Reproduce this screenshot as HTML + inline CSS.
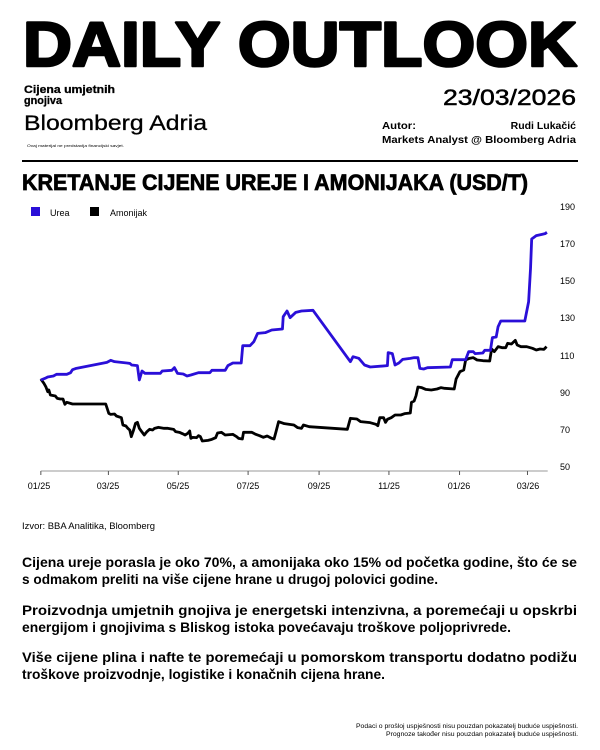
<!DOCTYPE html>
<html><head><meta charset="utf-8"><style>
html,body{margin:0;padding:0;background:#fff;}
svg{display:block;}
text{font-family:"Liberation Sans",sans-serif;fill:#000;}
.b{font-weight:bold;}
</style></head><body>
<svg width="600" height="750" viewBox="0 0 600 750" xmlns="http://www.w3.org/2000/svg">
<text x="23" y="66" class="b" font-size="63" stroke="#000" stroke-width="2.6" stroke-linejoin="round" textLength="554" lengthAdjust="spacingAndGlyphs">DAILY OUTLOOK</text>
<text x="24" y="93" class="b" font-size="11" stroke="#000" stroke-width="0.3" textLength="91" lengthAdjust="spacingAndGlyphs">Cijena umjetnih</text>
<text x="24" y="104" class="b" font-size="11" stroke="#000" stroke-width="0.3" textLength="38" lengthAdjust="spacingAndGlyphs">gnojiva</text>
<text x="24" y="130" font-size="21" stroke="#000" stroke-width="0.3" textLength="183" lengthAdjust="spacingAndGlyphs">Bloomberg Adria</text>
<text x="27" y="147" font-size="4" textLength="97" lengthAdjust="spacingAndGlyphs">Ovaj materijal ne predstavlja financijski savjet.</text>
<text x="443" y="105" font-size="22" stroke="#000" stroke-width="0.5" textLength="133" lengthAdjust="spacingAndGlyphs">23/03/2026</text>
<text x="382" y="129" class="b" font-size="10.5" textLength="34" lengthAdjust="spacingAndGlyphs">Autor:</text>
<text x="576" y="129" class="b" font-size="10.5" text-anchor="end">Rudi Lukačić</text>
<text x="382" y="143" class="b" font-size="10.5" textLength="194" lengthAdjust="spacingAndGlyphs">Markets Analyst @ Bloomberg Adria</text>
<rect x="22" y="160" width="556" height="2" fill="#000"/>
<text x="22" y="190" class="b" font-size="22" stroke="#000" stroke-width="0.7" textLength="506" lengthAdjust="spacingAndGlyphs">KRETANJE CIJENE UREJE I AMONIJAKA (USD/T)</text>
<rect x="31" y="207" width="9" height="9" fill="#2a0fd8"/>
<text x="50" y="216" font-size="9">Urea</text>
<rect x="90" y="207" width="9" height="9" fill="#000"/>
<text x="110" y="216" font-size="9">Amonijak</text>
<g font-size="9" fill="#000">
<text x="560" y="210">190</text><text x="560" y="247">170</text><text x="560" y="284">150</text>
<text x="560" y="321">130</text><text x="560" y="359">110</text><text x="560" y="396">90</text>
<text x="560" y="433">70</text><text x="560" y="470">50</text>
</g>
<g font-size="9" text-anchor="middle">
<text x="39" y="489">01/25</text><text x="108" y="489">03/25</text><text x="178" y="489">05/25</text>
<text x="248" y="489">07/25</text><text x="319" y="489">09/25</text><text x="389" y="489">11/25</text>
<text x="459" y="489">01/26</text><text x="528" y="489">03/26</text>
</g>
<svg x="0" y="195" width="600" height="300" viewBox="0 0 1572 900" preserveAspectRatio="none">
<line x1="107" y1="828" x2="1435" y2="828" stroke="#999" stroke-width="1" vector-effect="non-scaling-stroke"/>
<g stroke="#555" stroke-width="1">
<line x1="107" y1="828" x2="107" y2="840" vector-effect="non-scaling-stroke"/>
<line x1="284" y1="828" x2="284" y2="840" vector-effect="non-scaling-stroke"/>
<line x1="467" y1="828" x2="467" y2="840" vector-effect="non-scaling-stroke"/>
<line x1="650" y1="828" x2="650" y2="840" vector-effect="non-scaling-stroke"/>
<line x1="836" y1="828" x2="836" y2="840" vector-effect="non-scaling-stroke"/>
<line x1="1019" y1="828" x2="1019" y2="840" vector-effect="non-scaling-stroke"/>
<line x1="1204" y1="828" x2="1204" y2="840" vector-effect="non-scaling-stroke"/>
<line x1="1382" y1="828" x2="1382" y2="840" vector-effect="non-scaling-stroke"/>
</g>
<polyline fill="none" stroke="#000" stroke-width="2.8" stroke-linejoin="round" vector-effect="non-scaling-stroke" points="107,552 115,565 120,575 125,590 128,585 132,600 145,603 150,610 158,612 165,612 170,628 175,622 190,627 277,627 285,655 290,658 300,657 305,663 318,668 322,690 330,693 335,700 340,705 344,725 350,705 355,685 360,682 365,700 370,708 378,720 385,710 392,703 400,705 405,700 415,697 430,700 440,700 455,703 460,710 470,712 478,716 485,720 492,715 497,708 500,730 505,727 515,728 520,722 525,725 530,738 545,736 555,733 565,728 570,714 580,712 590,720 610,718 620,725 625,730 635,732 638,712 660,712 670,718 680,722 690,727 700,723 712,730 718,732 722,715 730,680 745,686 770,690 780,698 790,700 795,690 810,695 910,703 918,670 935,672 945,680 970,683 985,688 990,692 995,668 1005,668 1010,682 1015,673 1025,668 1035,660 1050,660 1060,656 1075,654 1078,622 1085,618 1090,602 1095,576 1105,578 1115,583 1130,585 1145,582 1155,578 1165,580 1190,582 1195,552 1205,530 1215,525 1220,495 1230,490 1240,488 1250,495 1265,497 1283,498 1288,462 1295,470 1305,455 1315,458 1325,458 1330,445 1340,447 1350,436 1355,450 1365,455 1380,455 1395,460 1405,465 1415,462 1425,463 1432,455"/>
<polyline fill="none" stroke="#2a0fd8" stroke-width="2.8" stroke-linejoin="round" vector-effect="non-scaling-stroke" points="107,555 118,550 125,546 140,543 148,538 175,538 185,533 190,524 200,520 280,502 290,496 300,500 340,505 345,510 360,512 365,555 372,528 380,535 420,535 425,528 450,526 457,518 465,535 480,537 490,543 500,540 520,533 550,533 555,526 590,526 597,512 610,504 632,504 636,452 655,452 665,440 675,415 695,413 712,405 740,402 742,365 752,348 760,368 775,352 790,348 820,346 918,500 925,485 940,490 955,510 970,516 1015,512 1017,473 1028,476 1035,510 1045,504 1055,493 1075,490 1085,488 1095,488 1100,520 1110,522 1120,518 1180,516 1185,494 1220,494 1228,470 1240,470 1245,476 1265,474 1270,466 1285,466 1290,428 1300,426 1305,395 1312,378 1375,378 1385,320 1390,220 1393,132 1405,122 1420,118 1428,116 1433,112"/>
</svg>
<text x="22" y="529" font-size="9" textLength="133" lengthAdjust="spacingAndGlyphs">Izvor: BBA Analitika, Bloomberg</text>
<g class="b" font-size="13.5" font-weight="bold">
<text x="22" y="567" textLength="555" lengthAdjust="spacingAndGlyphs">Cijena ureje porasla je oko 70%, a amonijaka oko 15% od početka godine, što će se</text>
<text x="22" y="584" textLength="416" lengthAdjust="spacingAndGlyphs">s odmakom preliti na više cijene hrane u drugoj polovici godine.</text>
<text x="22" y="615" textLength="555" lengthAdjust="spacingAndGlyphs">Proizvodnja umjetnih gnojiva je energetski intenzivna, a poremećaji u opskrbi</text>
<text x="22" y="632" textLength="489" lengthAdjust="spacingAndGlyphs">energijom i gnojivima s Bliskog istoka povećavaju troškove poljoprivrede.</text>
<text x="22" y="662" textLength="555" lengthAdjust="spacingAndGlyphs">Više cijene plina i nafte te poremećaji u pomorskom transportu dodatno podižu</text>
<text x="22" y="679" textLength="363" lengthAdjust="spacingAndGlyphs">troškove proizvodnje, logistike i konačnih cijena hrane.</text>
</g>
<text x="356" y="728" font-size="6" textLength="222" lengthAdjust="spacingAndGlyphs">Podaci o prošloj uspješnosti nisu pouzdan pokazatelj buduće uspješnosti.</text>
<text x="386" y="736" font-size="6" textLength="192" lengthAdjust="spacingAndGlyphs">Prognoze također nisu pouzdan pokazatelj buduće uspješnosti.</text>
</svg>
</body></html>
